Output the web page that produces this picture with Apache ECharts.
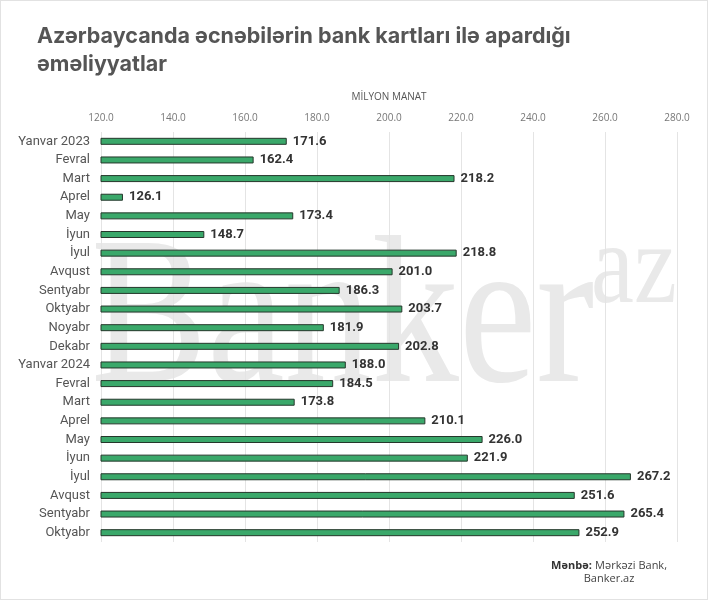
<!DOCTYPE html>
<html>
<head>
<meta charset="utf-8">
<script src="https://cdn.jsdelivr.net/npm/echarts@6/dist/echarts.min.js"></script>
<style>
  html, body { margin: 0; padding: 0; background: #fff; }
  #chart { width: 708px; height: 600px; box-sizing: border-box; border: 1px solid #e2e2e2; }
</style>
</head>
<body>
<div id="chart"></div>
<script>
// aylar (yuxarıdan aşağı)
const months = [
  "Yanvar 2023", "Fevral", "Mart", "Aprel", "May", "İyun", "İyul", "Avqust",
  "Sentyabr", "Oktyabr", "Noyabr", "Dekabr", "Yanvar 2024", "Fevral", "Mart",
  "Aprel", "May", "İyun", "İyul", "Avqust", "Sentyabr", "Oktyabr"
];
// milyon manat
const values = [
  171.6, 162.4, 218.2, 126.1, 173.4, 148.7, 218.8, 201.0, 186.3, 203.7, 181.9,
  202.8, 188.0, 184.5, 173.8, 210.1, 226.0, 221.9, 267.2, 251.6, 265.4, 252.9
];
const axisMin = 120;
const axisMax = 280;
const axisStep = 20;

const chart = echarts.init(document.getElementById("chart"));

const option = {
  animation: false,
  title: {
    text: "Azərbaycanda əcnəbilərin bank kartları ilə apardığı\nəməliyyatlar",
    left: 31,
    top: 17,
    textStyle: {
      fontFamily: "Inter",
      fontSize: 21.5,
      fontWeight: "bold",
      color: "#555",
      lineHeight: 28
    }
  },
  graphic: [
    // su nişanı
    {
      type: "text",
      x: 90,
      y: 220,
      scaleX: 0.83,
      z: -10,
      silent: true,
      style: {
        text: "Banker",
        font: "210px 'Liberation Serif'",
        fill: "#e9e9e9"
      }
    },
    {
      type: "text",
      x: 590,
      y: 213,
      scaleX: 0.84,
      z: -10,
      silent: true,
      style: {
        text: "az",
        font: "115px 'Liberation Serif'",
        fill: "#e9e9e9"
      }
    },
    {
      type: "text",
      right: 40,
      top: 558,
      style: {
        rich: {
          b: { fontFamily: "Open Sans", fontSize: 11, fontWeight: "bold", fill: "#333", color: "#333" },
          n: { fontFamily: "Open Sans", fontSize: 11, fill: "#444", color: "#444" }
        },
        text: "{b|Mənbə:} {n|Mərkəzi Bank,}\n{n|Banker.az}",
        align: "center",
        lineHeight: 13,
        textAlign: "center"
      }
    }
  ],
  grid: {
    left: 100,
    right: 30,
    top: 131,
    bottom: 57,
    containLabel: false
  },
  xAxis: {
    type: "value",
    position: "top",
    min: axisMin,
    max: axisMax,
    interval: axisStep,
    name: "MİLYON MANAT",
    nameLocation: "middle",
    nameGap: 30,
    nameTextStyle: { fontFamily: "Open Sans", fontSize: 10, color: "#555" },
    axisLine: { show: false },
    axisTick: { show: false },
    axisLabel: {
      fontFamily: "Open Sans",
      fontSize: 10,
      color: "#777",
      margin: 9,
      formatter: (v) => v.toFixed(1)
    },
    splitLine: { show: true, lineStyle: { color: "#e4e4e4", width: 1 } }
  },
  yAxis: {
    type: "category",
    data: months,
    inverse: true,
    axisLine: { show: false },
    axisTick: { show: false },
    axisLabel: {
      fontFamily: "Roboto",
      fontSize: 13,
      color: "#555",
      margin: 11
    }
  },
  series: [
    {
      type: "bar",
      data: values,
      barWidth: 7,
      itemStyle: {
        color: "#3aa86a",
        borderColor: "#25372b",
        borderWidth: 1
      },
      label: {
        show: true,
        position: "right",
        distance: 6,
        fontFamily: "Roboto",
        fontSize: 13,
        fontWeight: "bold",
        color: "#333",
        formatter: (p) => p.value.toFixed(1)
      }
    }
  ]
};

chart.setOption(option);
</script>
</body>
</html>
